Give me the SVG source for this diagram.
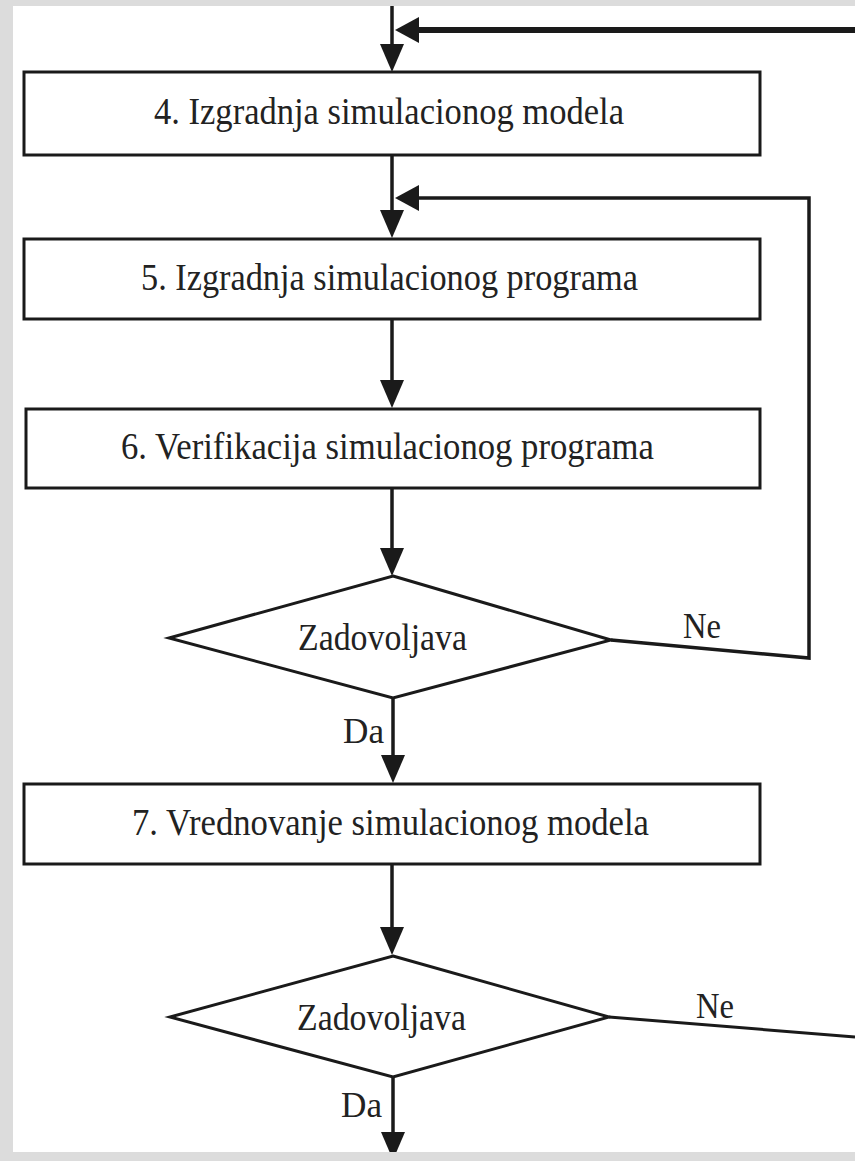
<svg xmlns="http://www.w3.org/2000/svg" width="855" height="1161" viewBox="0 0 855 1161">
<style>
.box{fill:#fff;stroke:#1a1a1a;stroke-width:3}
.dia{fill:#fff;stroke:#1a1a1a;stroke-width:3;stroke-linejoin:miter}
.t{font-family:"Liberation Serif","Times New Roman",serif;font-size:37px;fill:#222}
.lbl{font-family:"Liberation Serif","Times New Roman",serif;font-size:36px;fill:#222}
.c{fill:none;stroke:#1a1a1a;stroke-width:3.5}
</style>
<defs>
<marker id="ah" viewBox="0 0 28 24" refX="18" refY="12" markerWidth="28" markerHeight="24" markerUnits="userSpaceOnUse" orient="auto">
<path d="M0,0 L28,12 L0,24 z" fill="#1a1a1a"/>
</marker>
<marker id="ahs" viewBox="0 0 24 26" refX="14" refY="13" markerWidth="24" markerHeight="26" markerUnits="userSpaceOnUse" orient="auto">
<path d="M0,0 L24,13 L0,26 z" fill="#1a1a1a"/>
</marker>
</defs>
<rect x="0" y="0" width="855" height="1161" fill="#fff"/>
<g id="connectors">
<line class="c" x1="392" y1="6" x2="392" y2="62" marker-end="url(#ah)"/>
<line class="c" x1="855" y1="30" x2="405" y2="30" style="stroke-width:6" marker-end="url(#ahs)"/>
<line class="c" x1="392" y1="155" x2="392" y2="228" marker-end="url(#ah)"/>
<path class="c" d="M611,640 L809,658 L809,198 L405,198" marker-end="url(#ahs)"/>
<line class="c" x1="392" y1="318" x2="392" y2="398" marker-end="url(#ah)"/>
<line class="c" x1="392" y1="488" x2="392" y2="566" marker-end="url(#ah)"/>
<line class="c" x1="393" y1="698" x2="393" y2="773" marker-end="url(#ah)"/>
<line class="c" x1="392" y1="864" x2="392" y2="945" marker-end="url(#ah)"/>
<line class="c" x1="609" y1="1017" x2="855" y2="1037" style="stroke-width:3"/>
<line class="c" x1="393" y1="1077" x2="393" y2="1150" marker-end="url(#ah)"/>
<text class="lbl" x="683" y="638" textLength="38" lengthAdjust="spacingAndGlyphs">Ne</text>
<text class="lbl" x="343" y="743" textLength="41" lengthAdjust="spacingAndGlyphs">Da</text>
<text class="lbl" x="696" y="1018" textLength="38" lengthAdjust="spacingAndGlyphs">Ne</text>
<text class="lbl" x="341" y="1117" textLength="41" lengthAdjust="spacingAndGlyphs">Da</text>
</g>
<g id="n4">
<rect class="box" x="24" y="72" width="736" height="83"/>
<text class="t" x="154" y="124" textLength="470" lengthAdjust="spacingAndGlyphs">4. Izgradnja simulacionog modela</text>
</g>
<g id="n5">
<rect class="box" x="24" y="239" width="736" height="80"/>
<text class="t" x="141" y="290" textLength="497" lengthAdjust="spacingAndGlyphs">5. Izgradnja simulacionog programa</text>
</g>
<g id="n6">
<rect class="box" x="26" y="409" width="734" height="79"/>
<text class="t" x="121" y="459" textLength="533" lengthAdjust="spacingAndGlyphs">6. Verifikacija simulacionog programa</text>
</g>
<g id="d1">
<polygon class="dia" points="393,576 611,640 393,698 169,638"/>
<text class="t" x="298" y="650" textLength="169" lengthAdjust="spacingAndGlyphs">Zadovoljava</text>
</g>
<g id="n7">
<rect class="box" x="24" y="784" width="736" height="80"/>
<text class="t" x="132" y="835" textLength="517" lengthAdjust="spacingAndGlyphs">7. Vrednovanje simulacionog modela</text>
</g>
<g id="d2">
<polygon class="dia" points="393,956 609,1017 393,1077 170,1017"/>
<text class="t" x="297" y="1030" textLength="169" lengthAdjust="spacingAndGlyphs">Zadovoljava</text>
</g>
<g id="frame" fill="#dcdcdc">
<rect x="0" y="0" width="855" height="6"/>
<rect x="0" y="0" width="13" height="1161"/>
<rect x="0" y="1152" width="855" height="9"/>
</g>
</svg>
